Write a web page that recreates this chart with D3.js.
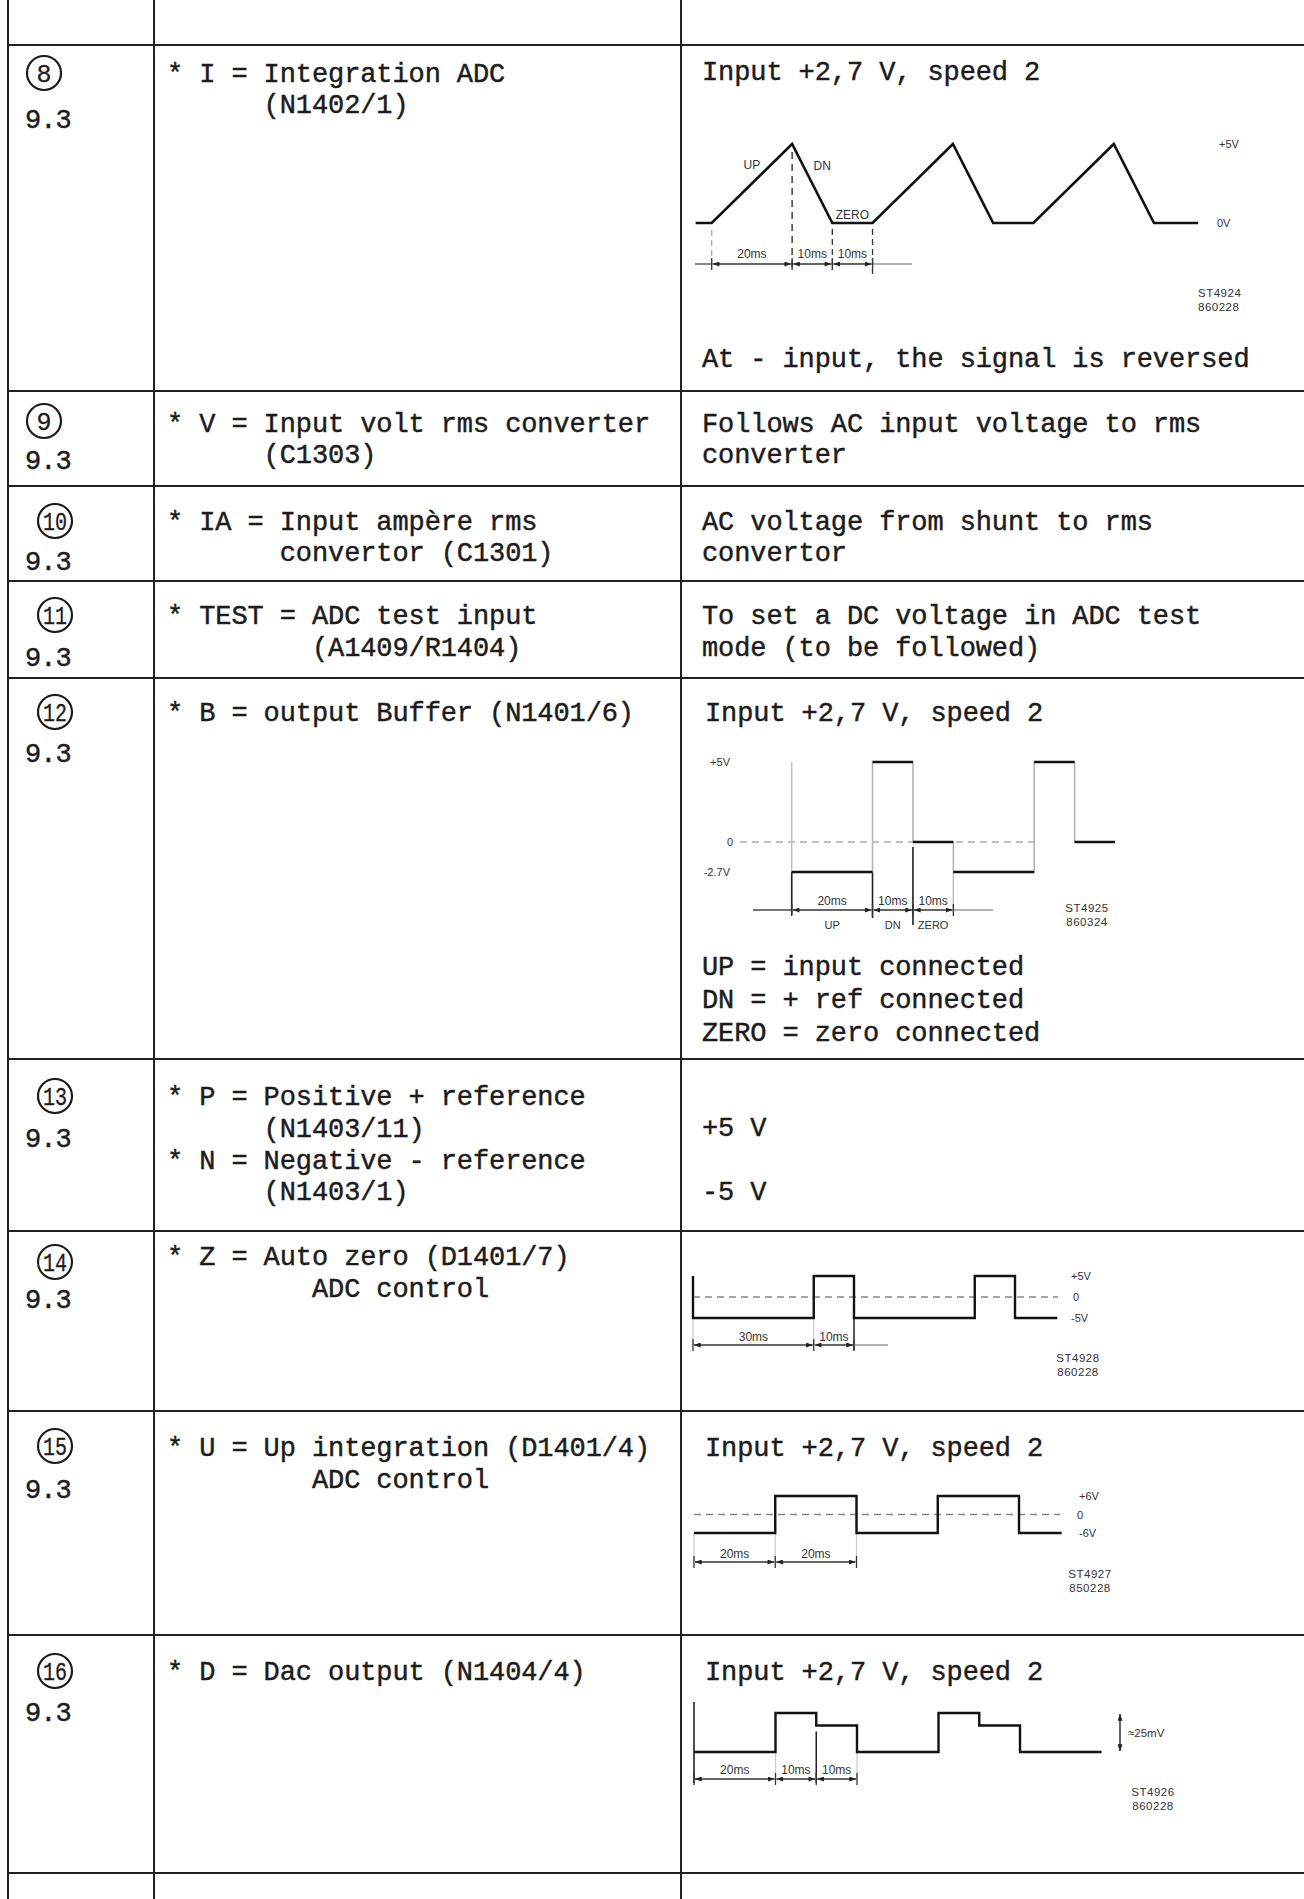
<!DOCTYPE html>
<html><head><meta charset="utf-8">
<script src="https://cdn.jsdelivr.net/npm/d3@7"></script>
<style>
html,body{margin:0;padding:0;background:#fff;}
svg{display:block;}
</style></head><body>
<svg id="page" width="1304" height="1899"></svg>
<script>
// ---------------- DATA ----------------
const rowNumbers = ["8","9","10","11","12","13","14","15","16"];
const sectionRefs = ["9.3","9.3","9.3","9.3","9.3","9.3","9.3","9.3","9.3"];
const signalLines = [
  ["* I = Integration ADC", "      (N1402/1)"],
  ["* V = Input volt rms converter", "      (C1303)"],
  ["* IA = Input ampère rms", "       convertor (C1301)"],
  ["* TEST = ADC test input", "         (A1409/R1404)"],
  ["* B = output Buffer (N1401/6)"],
  ["* P = Positive + reference", "      (N1403/11)", "* N = Negative - reference", "      (N1403/1)"],
  ["* Z = Auto zero (D1401/7)", "         ADC control"],
  ["* U = Up integration (D1401/4)", "         ADC control"],
  ["* D = Dac output (N1404/4)"]
];
const resultHeadLines = [
  ["Input +2,7 V, speed 2"],
  ["Follows AC input voltage to rms", "converter"],
  ["AC voltage from shunt to rms", "convertor"],
  ["To set a DC voltage in ADC test", "mode (to be followed)"],
  ["Input +2,7 V, speed 2"],
  [],
  [],
  ["Input +2,7 V, speed 2"],
  ["Input +2,7 V, speed 2"]
];
const reversedNote = "At - input, the signal is reversed";
const bufferLegend = ["UP = input connected", "DN = + ref connected", "ZERO = zero connected"];
const referenceValues = ["+5 V", "-5 V"];

// waveform 8 : integrator output (ms, V)
const integTimes = [-4, 0, 20, 30, 40, 60, 70, 80, 100, 110, 121];
const integVolts = [0, 0, 5, 0, 0, 5, 0, 0, 5, 0, 0];
const integDims = [0, 20, 30, 40];
const integDimLabels = ["20ms", "10ms", "10ms"];
const integPhaseLabels = ["UP", "DN", "ZERO"];
const integLevels = ["+5V", "0V"];
const integCode = ["ST4924", "860228"];

// waveform 12 : output buffer (ms, V)
const bufferTimes = [0, 20, 30, 40, 60, 70, 80];
const bufferVolts = [-2.7, 5, 0, -2.7, 5, 0, 0];
const bufferDims = [0, 20, 30, 40];
const bufferDimLabels = ["20ms", "10ms", "10ms"];
const bufferPhaseLabels = ["UP", "DN", "ZERO"];
const bufferLevels = ["+5V", "0", "-2.7V"];
const bufferCode = ["ST4925", "860324"];

// waveform 14 : auto zero (ms, V)
const zeroTimes = [0, 0, 30, 40, 70, 80, 90.5];
const zeroVolts = [5, -5, 5, -5, 5, -5, -5];
const zeroDims = [0, 30, 40];
const zeroDimLabels = ["30ms", "10ms"];
const zeroLevels = ["+5V", "0", "-5V"];
const zeroCode = ["ST4928", "860228"];

// waveform 15 : up integration (ms, V)
const upTimes = [-20, 0, 20, 40, 60, 70.5];
const upVolts = [-6, 6, -6, 6, -6, -6];
const upDims = [-20, 0, 20];
const upDimLabels = ["20ms", "20ms"];
const upLevels = ["+6V", "0", "-6V"];
const upCode = ["ST4927", "850228"];

// waveform 16 : DAC output (ms, mV)
const dacTimes = [-20, 0, 10, 20, 40, 50, 60, 80];
const dacMillivolts = [0, 25, 17, 0, 25, 17, 0, 0];
const dacDims = [-20, 0, 10, 20];
const dacDimLabels = ["20ms", "10ms", "10ms"];
const dacSpanLabel = "≈25mV";
const dacCode = ["ST4926", "860228"];

// ---------------- LAYOUT ----------------
const W = 1304, H = 1899;
const colX = [8, 154, 681];
const rowTop = [45, 391, 486, 581, 678, 1059, 1231, 1411, 1635];
const tableBottom = 1873;
const circleX = [44, 44, 55, 55, 55, 55, 55, 55, 55];
const circleY = [73, 421, 521, 615, 712, 1096, 1262, 1446, 1671];
const refY = [119, 460, 561, 657, 753, 1138, 1299, 1489, 1712];
const sigY0 = [72.6, 422.6, 520.6, 615, 712, 1096, 1256, 1447, 1671];
const resY0 = [71.4, 422.6, 520.6, 615, 712, 0, 0, 1447, 1671];
const resX = [702, 702, 702, 702, 705, 702, 702, 705, 705];
const lineGap = 31.8;

const MONO = "'Liberation Mono','DejaVu Sans Mono',monospace";
const SANS = "'Liberation Sans','DejaVu Sans',Arial,sans-serif";
const INK = "#1c1c1c";

const svg = d3.select("#page");
svg.append("rect").attr("width", W).attr("height", H).attr("fill", "#fff");

const defs = svg.append("defs");
defs.append("marker").attr("id", "arr").attr("viewBox", "0 0 8 6")
  .attr("refX", 8).attr("refY", 3).attr("markerWidth", 7).attr("markerHeight", 5)
  .attr("markerUnits", "userSpaceOnUse").attr("orient", "auto-start-reverse")
  .append("path").attr("d", "M0,0 L8,3 L0,6 Z").attr("fill", "#222");

// ---------------- TABLE ----------------
const grid = svg.append("g").attr("stroke", "#222").attr("stroke-width", 2);
[...rowTop, tableBottom].forEach(y => {
  grid.append("line").attr("x1", colX[0]).attr("x2", W).attr("y1", y).attr("y2", y);
});
colX.forEach(x => {
  grid.append("line").attr("x1", x).attr("x2", x).attr("y1", 0).attr("y2", H);
});

function monoText(x, y, str, opts = {}) {
  return svg.append("text")
    .attr("x", x).attr("y", y + 9)
    .attr("xml:space", "preserve")
    .style("white-space", "pre")
    .attr("font-family", MONO)
    .attr("font-size", opts.size || 27)
    .attr("letter-spacing", opts.ls != null ? opts.ls : -0.1)
    .attr("fill", INK)
    .attr("stroke", INK).attr("stroke-width", 0.45)
    .text(str);
}

rowNumbers.forEach((n, i) => {
  svg.append("circle").attr("cx", circleX[i]).attr("cy", circleY[i]).attr("r", 17)
    .attr("fill", "none").attr("stroke", INK).attr("stroke-width", 2.2);
  const t = svg.append("text").attr("x", circleX[i]).attr("y", circleY[i] + 8.5)
    .attr("text-anchor", "middle").attr("font-family", MONO).attr("font-size", 25)
    .attr("fill", INK).attr("stroke", INK).attr("stroke-width", 0.3).text(n);
  if (n.length > 1) t.attr("textLength", 24).attr("lengthAdjust", "spacingAndGlyphs");
  monoText(25, refY[i], sectionRefs[i], { ls: -1 });
  signalLines[i].forEach((s, k) => monoText(167, sigY0[i] + k * lineGap, s));
  resultHeadLines[i].forEach((s, k) => monoText(resX[i], resY0[i] + k * lineGap, s));
});
monoText(702, 358, reversedNote);
bufferLegend.forEach((s, k) => monoText(702, 966 + k * 32.8, s));
monoText(702, 1127, referenceValues[0]);
monoText(702, 1191, referenceValues[1]);

// ---------------- WAVEFORM HELPERS ----------------
function smallText(x, y, str, anchor = "start", size = 12) {
  return svg.append("text").attr("x", x).attr("y", y).attr("text-anchor", anchor)
    .attr("font-family", SANS).attr("font-size", size).attr("fill", "#333").text(str);
}
function seg(x1, y1, x2, y2, color, w, dash) {
  const l = svg.append("line").attr("x1", x1).attr("x2", x2).attr("y1", y1).attr("y2", y2)
    .attr("stroke", color).attr("stroke-width", w);
  if (dash) l.attr("stroke-dasharray", dash);
  return l;
}
function dims(xs, y, ticks, labels, labelY, from, to) {
  if (from != null) seg(from, y, xs(ticks[0]), y, "#444", 1.3);
  if (to != null) seg(xs(ticks[ticks.length - 1]), y, to, y, "#999", 1.3);
  for (let i = 0; i < ticks.length - 1; i++) {
    seg(xs(ticks[i]) + 1, y, xs(ticks[i + 1]) - 1, y, "#333", 1.3)
      .attr("marker-start", "url(#arr)").attr("marker-end", "url(#arr)");
    smallText((xs(ticks[i]) + xs(ticks[i + 1])) / 2, labelY, labels[i], "middle");
  }
  ticks.forEach(t => seg(xs(t), y - 6, xs(t), y + 6, "#333", 1.3));
}
function codeLabel(x, y, lines, anchor = "middle") {
  lines.forEach((s, k) => smallText(x, y + k * 14, s, anchor, 11.5).attr("letter-spacing", 0.5));
}
function stepLine(xs, ys, times, vals) {
  return d3.line().x((d, i) => xs(times[i])).y((d, i) => ys(vals[i])).curve(d3.curveStepAfter)(times);
}

// ---------------- WAVEFORM 8 ----------------
{
  const xs = d3.scaleLinear().domain([0, 110]).range([711.7, 1154]);
  const ys = d3.scaleLinear().domain([0, 5]).range([223, 144]);
  seg(xs(0), ys(0) + 7, xs(0), 270, "#aaa", 1.3, "6,4");
  seg(xs(20), ys(5) + 8, xs(20), 270, "#333", 1.4, "7,5");
  seg(xs(30), ys(0) + 6, xs(30), 270, "#333", 1.3, "6,4");
  seg(xs(40), ys(0) + 6, xs(40), 274, "#333", 1.3, "6,4");
  svg.append("path").attr("d", d3.line().x((d, i) => xs(integTimes[i])).y((d, i) => ys(integVolts[i]))(integTimes))
    .attr("fill", "none").attr("stroke", "#111").attr("stroke-width", 2.6).attr("stroke-linejoin", "miter");
  dims(xs, 264, integDims, integDimLabels, 258, 695, 912);
  smallText(xs(10), 169, integPhaseLabels[0], "middle");
  smallText(xs(27.5), 170, integPhaseLabels[1], "middle");
  smallText(xs(35), 219, integPhaseLabels[2], "middle");
  smallText(1219, ys(5) + 4, integLevels[0], "start", 11);
  smallText(1217, ys(0) + 4, integLevels[1], "start", 11);
  codeLabel(1198, 297, integCode, "start");
}

// ---------------- WAVEFORM 12 ----------------
{
  const xs = d3.scaleLinear().domain([0, 80]).range([791.7, 1115]);
  const ys = d3.scaleLinear().domain([-2.7, 0, 5]).range([872, 842, 762]);
  seg(740, ys(0), xs(60), ys(0), "#aaa", 1.3, "7,5");
  seg(xs(0), ys(5), xs(0), 912, "#bbb", 1.4);
  seg(xs(40), ys(-2.7), xs(40), 912, "#bbb", 1.4);
  seg(xs(0), ys(-2.7), xs(0), 915, "#222", 1.6);
  seg(xs(20), ys(-2.7), xs(20), 918, "#222", 1.6);
  seg(xs(30), ys(0) + 5, xs(30), 925, "#222", 1.6);
  svg.append("path").attr("d", stepLine(xs, ys, bufferTimes, bufferVolts))
    .attr("fill", "none").attr("stroke", "#b5b5b5").attr("stroke-width", 1.6);
  for (let i = 0; i < bufferTimes.length - 1; i++) {
    seg(xs(bufferTimes[i]), ys(bufferVolts[i]), xs(bufferTimes[i + 1]), ys(bufferVolts[i]), "#111", 2.6);
  }
  dims(xs, 910, bufferDims, bufferDimLabels, 905, 753, 993);
  bufferPhaseLabels.forEach((s, i) => smallText((xs(bufferDims[i]) + xs(bufferDims[i + 1])) / 2, 929, s, "middle", 11));
  smallText(730, ys(5) + 4, bufferLevels[0], "end", 11);
  smallText(733, ys(0) + 4, bufferLevels[1], "end", 11);
  smallText(730, ys(-2.7) + 4, bufferLevels[2], "end", 11);
  codeLabel(1087, 912, bufferCode);
}

// ---------------- WAVEFORM 14 ----------------
{
  const xs = d3.scaleLinear().domain([0, 80]).range([693, 1015]);
  const ys = d3.scaleLinear().domain([-5, 5]).range([1318, 1276]);
  seg(693, ys(0), 1058, ys(0), "#888", 1.3, "7,5");
  seg(xs(0), ys(-5), xs(0), 1345, "#ccc", 1.3);
  seg(xs(30), ys(-5), xs(30), 1345, "#ccc", 1.3);
  seg(xs(40), ys(-5), xs(40), 1350, "#222", 1.5);
  svg.append("path").attr("d", stepLine(xs, ys, zeroTimes, zeroVolts))
    .attr("fill", "none").attr("stroke", "#111").attr("stroke-width", 2.4);
  dims(xs, 1345, zeroDims, zeroDimLabels, 1341, null, 888);
  smallText(1071, ys(5) + 4, zeroLevels[0], "start", 11);
  smallText(1073, ys(0) + 4, zeroLevels[1], "start", 11);
  smallText(1071, ys(-5) + 4, zeroLevels[2], "start", 11);
  codeLabel(1078, 1362, zeroCode);
}

// ---------------- WAVEFORM 15 ----------------
{
  const xs = d3.scaleLinear().domain([-20, 60]).range([694, 1019]);
  const ys = d3.scaleLinear().domain([-6, 6]).range([1533, 1496]);
  seg(694, ys(0), 1060, ys(0), "#888", 1.3, "7,5");
  seg(xs(0), ys(6), xs(0), 1562, "#ccc", 1.3);
  seg(xs(20), ys(6), xs(20), 1562, "#ccc", 1.3);
  seg(xs(-20), ys(-6), xs(-20), 1562, "#ccc", 1.3);
  svg.append("path").attr("d", stepLine(xs, ys, upTimes, upVolts))
    .attr("fill", "none").attr("stroke", "#111").attr("stroke-width", 2.4);
  dims(xs, 1562, upDims, upDimLabels, 1558, null, null);
  smallText(1079, ys(6) + 4, upLevels[0], "start", 11);
  smallText(1077, ys(0) + 4, upLevels[1], "start", 11);
  smallText(1079, ys(-6) + 4, upLevels[2], "start", 11);
  codeLabel(1090, 1578, upCode);
}

// ---------------- WAVEFORM 16 ----------------
{
  const xs = d3.scaleLinear().domain([-20, 60]).range([694, 1020]);
  const ys = d3.scaleLinear().domain([0, 25]).range([1752, 1713]);
  seg(xs(-20), 1702, xs(-20), 1783, "#222", 1.6);
  seg(xs(0), ys(0), xs(0), 1779, "#ccc", 1.3);
  seg(xs(20), ys(17), xs(20), 1779, "#ccc", 1.3);
  seg(xs(10), ys(17) + 6, xs(10), 1783, "#222", 1.5);
  svg.append("path").attr("d", stepLine(xs, ys, dacTimes, dacMillivolts))
    .attr("fill", "none").attr("stroke", "#111").attr("stroke-width", 2.4);
  dims(xs, 1779, dacDims, dacDimLabels, 1774, null, null);
  seg(1120, ys(0) - 1, 1120, ys(25) + 1, "#222", 1.4)
    .attr("marker-start", "url(#arr)").attr("marker-end", "url(#arr)");
  smallText(1128, 1737, dacSpanLabel, "start", 11.5);
  codeLabel(1153, 1796, dacCode);
}
</script>
</body></html>
